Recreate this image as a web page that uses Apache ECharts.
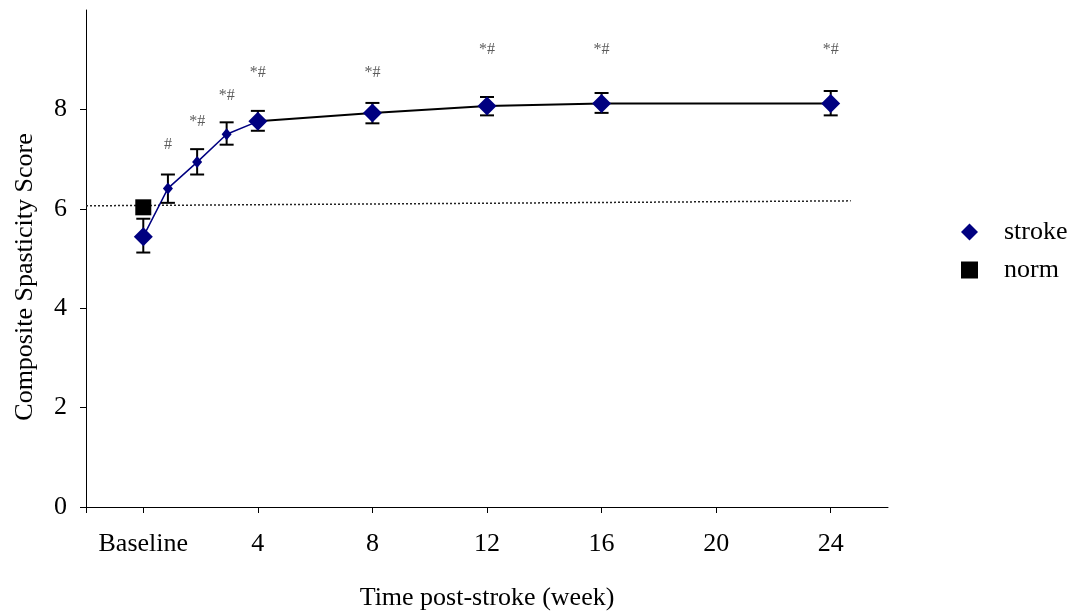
<!DOCTYPE html>
<html>
<head>
<meta charset="utf-8">
<title>Composite Spasticity Score</title>
<script src="https://cdn.jsdelivr.net/npm/echarts@6/dist/echarts.min.js"></script>
<style>
html, body { margin: 0; padding: 0; background: #fff; }
#main { width: 1078px; height: 616px; }
</style>
</head>
<body>
<div id="main"></div>
<script>
// weeks post-stroke (0 = baseline)
var weeks = [0, 0.86, 1.88, 2.91, 4, 8, 12, 16, 24];
var strokeMean = [5.44, 6.41, 6.94, 7.50, 7.76, 7.93, 8.07, 8.12, 8.12];
var strokeLow = [5.12, 6.12, 6.69, 7.29, 7.57, 7.72, 7.88, 7.93, 7.88];
var strokeHigh = [5.80, 6.69, 7.20, 7.74, 7.97, 8.13, 8.25, 8.33, 8.37];
var normWeek = [0];
var normValue = [6.03];
var trendWeeks = [-2, 24.7];
var trendValues = [6.06, 6.16];
var markText = ['', '#', '*#', '*#', '*#', '*#', '*#', '*#', '*#'];
var markY = [null, 7.28, 7.76, 8.27, 8.73, 8.73, 9.19, 9.19, 9.19];
var xTicks = [-2, 0, 4, 8, 12, 16, 20, 24];
var xLabels = [0, 4, 8, 12, 16, 20, 24];
var yTicks = [0, 2, 4, 6, 8];

var FONT = "'Liberation Serif', 'Times New Roman', serif";
var NAVY = '#000080';

var early = [], late = [], points = [], bars = [], marks = [];
weeks.forEach(function (w, i) {
	if (i <= 4) early.push([w, strokeMean[i]]);
	if (i >= 4) late.push([w, strokeMean[i]]);
	points.push([w, strokeMean[i]]);
	bars.push([w, strokeLow[i], strokeHigh[i]]);
	if (markY[i] != null) marks.push([w, markY[i], markText[i]]);
});

var myChart = echarts.init(document.getElementById('main'));
var option = {
	animation: false,
	backgroundColor: '#fff',
	textStyle: { fontFamily: FONT },
	grid: { left: 86, right: 190, top: 10, bottom: 108 },
	legend: {
		orient: 'vertical',
		left: 956,
		top: 214,
		itemWidth: 17,
		itemHeight: 17,
		itemGap: 12,
		textStyle: { fontFamily: FONT, fontSize: 26, color: '#000', lineHeight: 26, padding: [0, 0, 0, 21] },
		data: [
			{ name: 'stroke', icon: 'diamond', itemStyle: { color: NAVY } },
			{ name: 'norm', icon: 'rect', itemStyle: { color: '#000' } }
		]
	},
	xAxis: {
		type: 'value',
		min: -2,
		max: 26,
		splitLine: { show: false },
		axisLine: { onZero: false, lineStyle: { color: '#000', width: 1 } },
		axisTick: { customValues: xTicks, length: 6, lineStyle: { color: '#000' } },
		axisLabel: {
			customValues: xLabels,
			margin: 24,
			fontSize: 26,
			color: '#000',
			fontFamily: FONT,
			formatter: function (v) { return v === 0 ? 'Baseline' : String(v); }
		},
		name: 'Time post-stroke (week)',
		nameLocation: 'middle',
		nameGap: 78,
		nameTextStyle: { fontSize: 26, color: '#000', fontFamily: FONT }
	},
	yAxis: {
		type: 'value',
		min: 0,
		max: 10,
		splitLine: { show: false },
		axisLine: { show: true, onZero: false, lineStyle: { color: '#000', width: 1 } },
		axisTick: { show: true, customValues: yTicks, length: 6, lineStyle: { color: '#000' } },
		axisLabel: { customValues: yTicks, margin: 19, fontSize: 26, color: '#000', fontFamily: FONT }
	},
	graphic: [{
		type: 'text',
		x: 25,
		y: 277,
		rotation: Math.PI / 2,
		style: {
			text: 'Composite Spasticity Score',
			font: '26px ' + FONT,
			fill: '#000',
			align: 'center',
			verticalAlign: 'middle'
		}
	}],
	series: [
		{
			name: 'trend',
			type: 'line',
			data: trendWeeks.map(function (w, i) { return [w, trendValues[i]]; }),
			showSymbol: false,
			lineStyle: { color: '#222', width: 1.5, type: [2, 2] },
			z: 1,
			silent: true
		},
		{
			name: 'early',
			type: 'line',
			data: early,
			showSymbol: false,
			lineStyle: { color: NAVY, width: 1.5 },
			z: 2
		},
		{
			name: 'late',
			type: 'line',
			data: late,
			showSymbol: false,
			lineStyle: { color: '#000', width: 2 },
			z: 2
		},
		{
			name: 'errors',
			type: 'custom',
			data: bars,
			encode: { x: 0, y: [1, 2] },
			z: 3,
			renderItem: function (params, api) {
				var top = api.coord([api.value(0), api.value(2)]);
				var bot = api.coord([api.value(0), api.value(1)]);
				var w = 7;
				var st = { stroke: '#000', lineWidth: 2 };
				return {
					type: 'group',
					children: [
						{ type: 'line', shape: { x1: top[0], y1: top[1], x2: bot[0], y2: bot[1] }, style: st },
						{ type: 'line', shape: { x1: top[0] - w, y1: top[1], x2: top[0] + w, y2: top[1] }, style: st },
						{ type: 'line', shape: { x1: bot[0] - w, y1: bot[1], x2: bot[0] + w, y2: bot[1] }, style: st }
					]
				};
			}
		},
		{
			name: 'stroke',
			type: 'scatter',
			data: points,
			symbol: 'diamond',
			symbolSize: function (v) {
				return (v[0] > 0 && v[0] < 4) ? [10, 12] : [19, 19];
			},
			itemStyle: { color: NAVY, opacity: 1 },
			z: 4
		},
		{
			name: 'norm',
			type: 'scatter',
			data: normWeek.map(function (w, i) { return [w, normValue[i]]; }),
			symbol: 'rect',
			symbolSize: 16,
			itemStyle: { color: '#000', opacity: 1 },
			z: 4
		},
		{
			name: 'marks',
			type: 'scatter',
			data: marks,
			symbolSize: 0,
			silent: true,
			label: {
				show: true,
				position: 'inside',
				formatter: function (p) { return p.value[2]; },
				fontSize: 16,
				color: '#333',
				fontFamily: FONT
			},
			z: 5
		}
	]
};
myChart.setOption(option);
</script>
</body>
</html>
